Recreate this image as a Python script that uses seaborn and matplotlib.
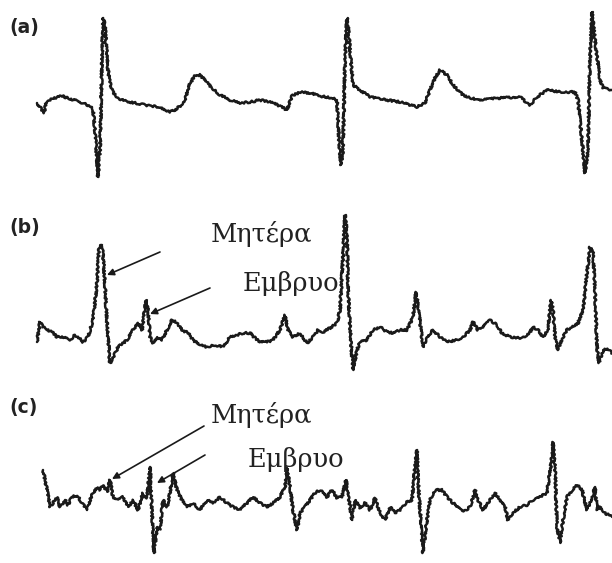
import matplotlib
matplotlib.use("Agg")
import matplotlib.pyplot as plt
import seaborn as sns
import pandas as pd

# traces (x, y in pixel units of the 612x563 figure, y down)
a_x = [37, 42, 44, 46, 50, 58, 62, 70, 78, 85, 90, 93, 95, 97, 98, 100, 102, 103, 105, 106,
       108, 110, 113, 118, 125, 135, 150, 160, 170, 175, 180, 185, 190, 195, 200, 205, 212,
       220, 230, 240, 250, 260, 270, 280, 287, 292, 300, 310, 320, 333, 337, 339, 341, 343,
       345, 347, 348, 350, 353, 360, 370, 387, 400, 417, 425, 430, 435, 440, 447, 453, 463,
       477, 500, 520, 530, 537, 547, 560, 575, 578, 582, 585, 588, 590, 592, 595, 600, 603, 612]
a_y = [103, 110, 113, 104, 100, 97, 96, 99, 101, 104, 106, 110, 130, 160, 177, 150, 60, 18, 25, 40,
       70, 83, 92, 98, 101, 103, 106, 107, 112, 110, 106, 100, 83, 76, 75, 80, 88,
       95, 100, 103, 102, 100, 102, 106, 110, 96, 92, 93, 96, 98, 100, 140, 165, 150,
       60, 18, 25, 50, 85, 90, 97, 100, 102, 107, 103, 90, 78, 70, 75, 85, 95,
       100, 98, 97, 105, 97, 90, 92, 92, 100, 140, 173, 150, 60, 12, 40, 80, 88, 90]

b_x = [37, 40, 43, 47, 52, 57, 63, 70, 75, 78, 83, 88, 93, 97, 99, 102, 104, 107, 110, 113,
       118, 127, 133, 138, 142, 146, 148, 150, 153, 157, 162, 167, 172, 177, 182, 188, 193,
       200, 207, 215, 223, 230, 237, 243, 250, 255, 260, 267, 273, 280, 285, 288, 293, 300,
       307, 313, 318, 323, 330, 337, 340, 343, 345, 347, 348, 351, 353, 357, 360, 367, 373,
       380, 387, 393, 400, 407, 413, 416, 418, 421, 423, 427, 433, 440, 447, 457, 463, 470,
       473, 478, 483, 490, 497, 502, 510, 523, 530, 533, 538, 543, 548, 551, 553, 555, 558,
       563, 567, 572, 578, 583, 587, 590, 593, 595, 597, 599, 603, 607, 612]
b_y = [342, 322, 327, 330, 332, 337, 337, 340, 335, 337, 342, 337, 320, 283, 247, 245, 267, 323, 363, 358,
       347, 340, 330, 323, 330, 300, 310, 337, 343, 337, 340, 330, 320, 323, 330, 333, 340,
       345, 347, 345, 347, 337, 335, 333, 333, 338, 342, 342, 340, 330, 315, 330, 337, 333,
       343, 337, 330, 332, 328, 323, 310, 257, 215, 233, 290, 343, 370, 350, 342, 340, 330,
       327, 332, 333, 330, 330, 317, 292, 305, 330, 347, 337, 330, 337, 342, 340, 337, 330,
       322, 330, 327, 320, 325, 333, 337, 338, 332, 327, 330, 337, 330, 300, 310, 337, 350,
       337, 330, 327, 323, 310, 273, 247, 253, 290, 347, 363, 350, 348, 353]

c_x = [43, 47, 50, 53, 57, 60, 65, 68, 72, 77, 82, 87, 90, 93, 97, 100, 103, 107, 110, 113,
       118, 123, 128, 133, 138, 143, 147, 150, 152, 154, 157, 160, 163, 167, 170, 173, 177,
       182, 187, 193, 200, 207, 213, 220, 227, 233, 240, 247, 253, 260, 267, 273, 280, 285,
       287, 290, 293, 297, 300, 305, 310, 315, 320, 327, 332, 337, 342, 346, 348, 352, 355,
       360, 365, 370, 375, 380, 385, 390, 395, 400, 407, 412, 415, 417, 418, 421, 423, 426,
       430, 435, 442, 447, 453, 463, 470, 475, 478, 483, 490, 495, 500, 505, 508, 513, 520,
       527, 533, 540, 547, 552, 553, 555, 557, 560, 563, 567, 572, 577, 582, 587, 592, 595,
       597, 600, 605, 612]
c_y = [470, 490, 507, 503, 497, 507, 500, 505, 497, 495, 503, 510, 500, 493, 487, 490, 485, 492, 480, 497,
       500, 497, 507, 500, 510, 493, 498, 467, 513, 553, 527, 530, 500, 507, 493, 473, 490,
       500, 507, 503, 510, 500, 503, 497, 503, 507, 510, 503, 497, 503, 507, 503, 497, 487,
       468, 487, 510, 530, 513, 507, 500, 493, 490, 497, 490, 498, 497, 480, 493, 520, 500,
       508, 503, 510, 498, 513, 520, 507, 513, 510, 502, 500, 467, 450, 480, 523, 553, 527,
       500, 490, 490, 497, 503, 512, 507, 490, 500, 510, 500, 493, 500, 507, 520, 513, 507,
       505, 500, 497, 493, 457, 442, 467, 527, 543, 520, 497, 490, 485, 490, 510, 497, 487,
       510, 507, 513, 517]

panel_labels = ["(a)", "(b)", "(c)"]
panel_label_y = [27, 228, 407]

note_text = ["Μητέρα", "Εμβρυο", "Μητέρα", "Εμβρυο"]
note_xy = [(211, 234), (243, 283), (211, 415), (248, 460)]
arrow_tail = [(160, 252), (210, 288), (204, 426), (205, 455)]
arrow_head = [(107, 275), (150, 314), (112, 479), (157, 483)]

sns.set_style("white")

fig = plt.figure(figsize=(6.12, 5.63), dpi=100)
ax = fig.add_axes([0, 0, 1, 1])

for xs, ys in [(a_x, a_y), (b_x, b_y), (c_x, c_y)]:
    df = pd.DataFrame({"x": xs, "y": ys})
    sns.lineplot(data=df, x="x", y="y", sort=False, estimator=None,
                 color="#1a1a1a", linewidth=1.8, ax=ax)

# hand-drawn look of the scanned traces
for ln in ax.get_lines():
    ln.set_sketch_params(scale=1.0, length=3.0, randomness=4.0)

for lab, ly in zip(panel_labels, panel_label_y):
    ax.text(9, ly, lab, fontsize=13.5, fontweight="bold", family="DejaVu Sans",
            va="center", ha="left", color="#222222")

for txt, (tx, ty) in zip(note_text, note_xy):
    ax.text(tx, ty, txt, fontsize=18.5, family="DejaVu Serif",
            va="center", ha="left", color="#222222")

for tail, head in zip(arrow_tail, arrow_head):
    ax.annotate("", xy=head, xytext=tail,
                arrowprops=dict(arrowstyle="-|>", color="#1a1a1a", lw=1.2,
                                mutation_scale=10, shrinkA=0, shrinkB=0))

ax.set_xlim(0, 612)
ax.set_ylim(563, 0)
ax.axis("off")

fig.savefig("out.png", dpi=100, facecolor="white")
